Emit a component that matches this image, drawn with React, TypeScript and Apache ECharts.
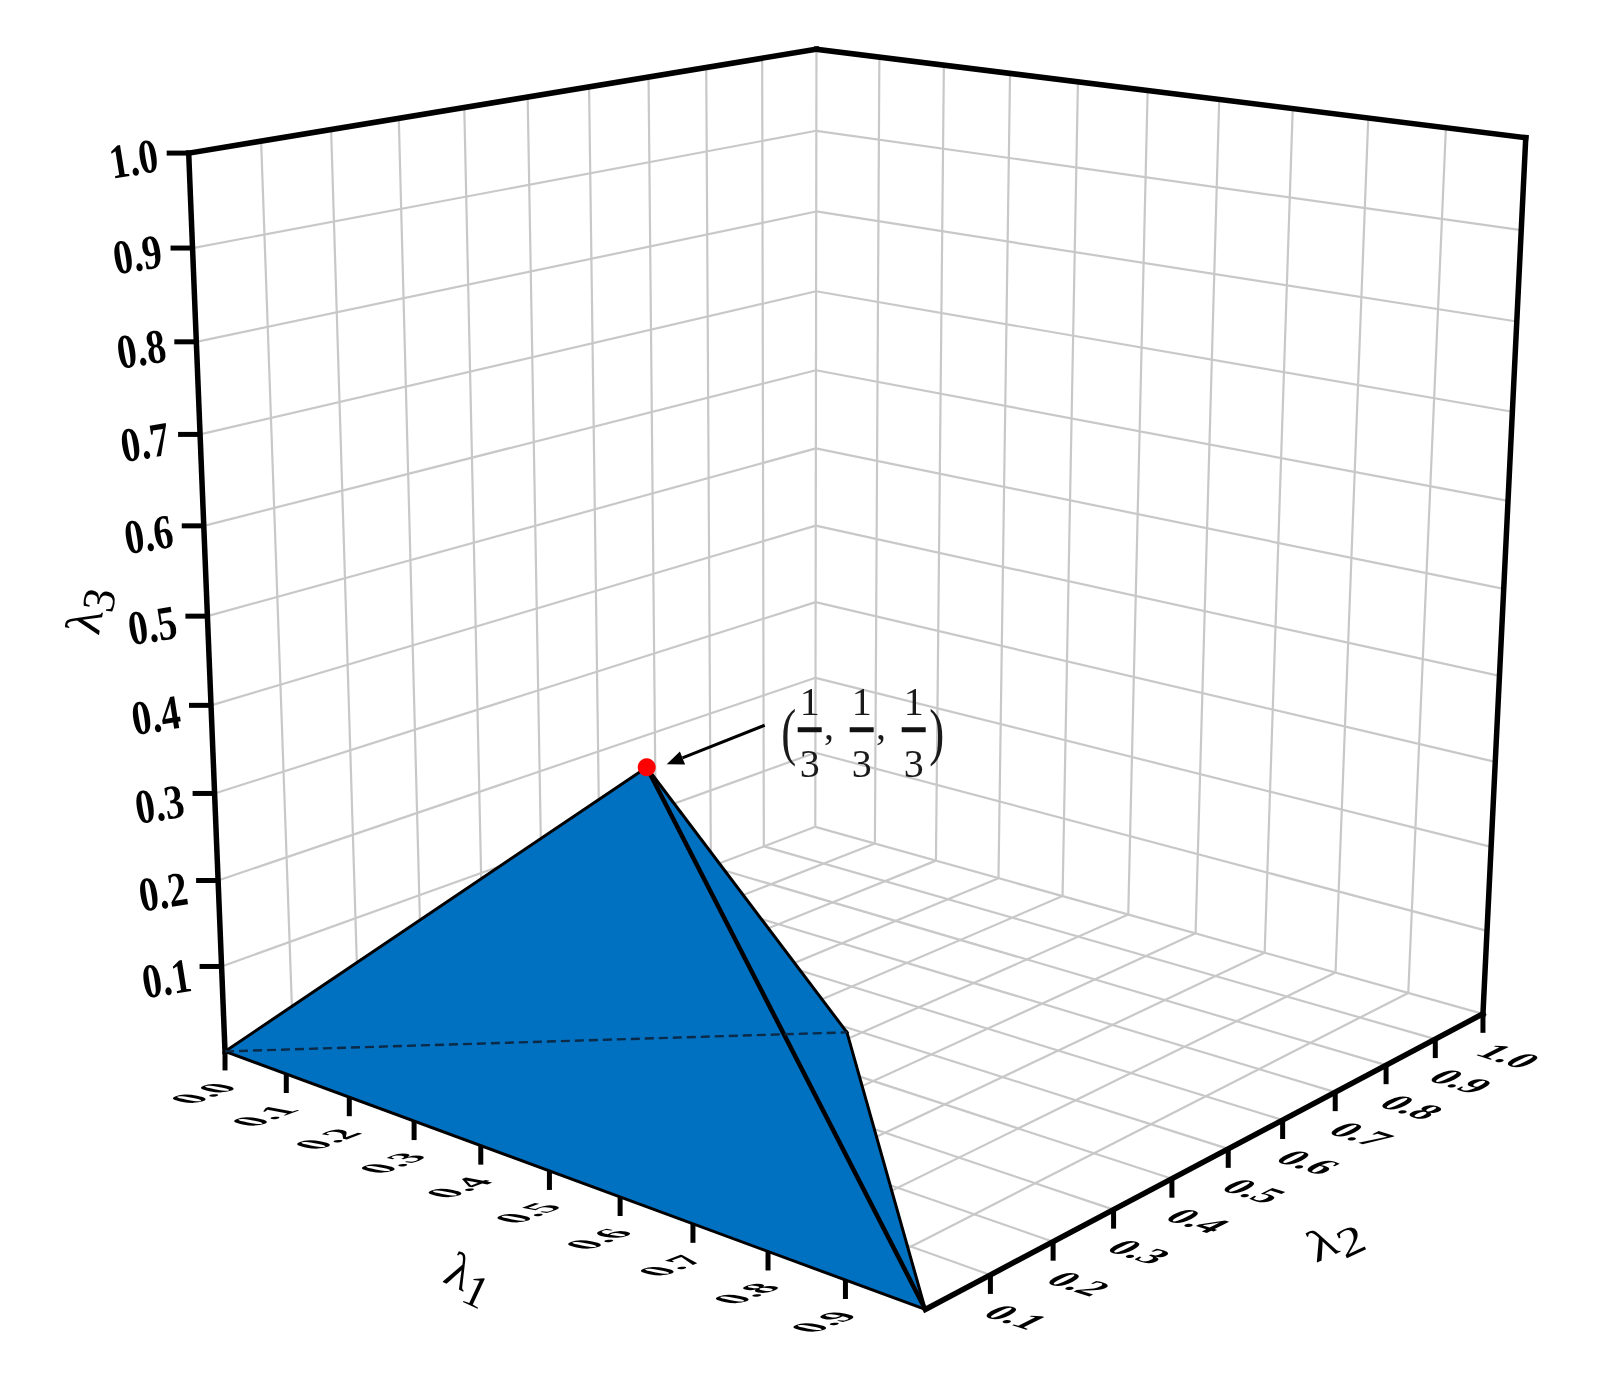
import React, { useEffect, useRef } from "react";
import * as echarts from "echarts";

const TICK_VALUES = [0.1, 0.2, 0.3, 0.4, 0.5, 0.6, 0.7, 0.8, 0.9];
const LAMBDA1_TICKS = [0, 0.1, 0.2, 0.3, 0.4, 0.5, 0.6, 0.7, 0.8, 0.9];
const LAMBDA1_LABELS = ["0.0", "0.1", "0.2", "0.3", "0.4", "0.5", "0.6", "0.7", "0.8", "0.9"];
const LAMBDA2_TICKS = [0.1, 0.2, 0.3, 0.4, 0.5, 0.6, 0.7, 0.8, 0.9, 1];
const LAMBDA2_LABELS = ["0.1", "0.2", "0.3", "0.4", "0.5", "0.6", "0.7", "0.8", "0.9", "1.0"];
const LAMBDA3_TICKS = [0.1, 0.2, 0.3, 0.4, 0.5, 0.6, 0.7, 0.8, 0.9, 1];
const LAMBDA3_LABELS = ["0.1", "0.2", "0.3", "0.4", "0.5", "0.6", "0.7", "0.8", "0.9", "1.0"];

// The simplex slice that is plotted, in (λ1, λ2, λ3)
const ORIGIN = [0, 0, 0];
const UNIT_L1 = [1, 0, 0];
const CENTROID = [0.336, 0.327, 0.32];
const MID_FLOOR = [0.487, 0.489, 0];

// Camera calibration: box corner -> page pixel
const CAMERA = [
  [[0, 0, 0], [225, 1051]],
  [[1, 0, 0], [925, 1310]],
  [[1, 1, 0], [1483, 1013]],
  [[0, 1, 0], [815.5, 827.5]],
  [[0, 0, 1], [189, 153]],
  [[0, 1, 1], [816, 49]],
  [[1, 1, 1], [1526, 138]],
];

function solveCamera(): number[] {
  const rows: number[][] = [];
  const rhs: number[] = [];
  for (const [[X, Y, Z], [u, v]] of CAMERA as any) {
    rows.push([X, Y, Z, 1, 0, 0, 0, 0, -u * X, -u * Y, -u * Z]);
    rhs.push(u);
    rows.push([0, 0, 0, 0, X, Y, Z, 1, -v * X, -v * Y, -v * Z]);
    rhs.push(v);
  }
  const n = 11;
  const A: number[][] = [];
  for (let i = 0; i < n; i++) {
    const r: number[] = [];
    for (let j = 0; j < n; j++) {
      let s = 0;
      rows.forEach((row) => (s += row[i] * row[j]));
      r.push(s);
    }
    let b = 0;
    rows.forEach((row, k) => (b += row[i] * rhs[k]));
    r.push(b);
    A.push(r);
  }
  for (let c = 0; c < n; c++) {
    let piv = c;
    for (let r = c + 1; r < n; r++) if (Math.abs(A[r][c]) > Math.abs(A[piv][c])) piv = r;
    [A[c], A[piv]] = [A[piv], A[c]];
    for (let r = 0; r < n; r++) {
      if (r === c) continue;
      const f = A[r][c] / A[c][c];
      for (let k = c; k <= n; k++) A[r][k] -= f * A[c][k];
    }
  }
  return A.map((r, i) => r[n] / r[i]);
}
const P = solveCamera();
function project(p: number[]): number[] {
  const [X, Y, Z] = p;
  const w = P[8] * X + P[9] * Y + P[10] * Z + 1;
  return [(P[0] * X + P[1] * Y + P[2] * Z + P[3]) / w, (P[4] * X + P[5] * Y + P[6] * Z + P[7]) / w];
}

const FONT = "'Liberation Serif', 'Times New Roman', serif";
const GRID_COLOR = "#c8c8c8";
const BLUE = "#0070c0";

// Affine text: ex maps text x to page, ey maps text y(down) to page
function affineText(x: number, y: number, ex: number[], ey: number[], style: any) {
  const a = ex[0], b = ey[0], c = ex[1], d = ey[1];
  const E = (a + d) / 2, F = (a - d) / 2, G = (c + b) / 2, H = (c - b) / 2;
  const Q = Math.hypot(E, H), R = Math.hypot(F, G);
  const a1 = Math.atan2(G, F), a2 = Math.atan2(H, E);
  const theta = (a2 - a1) / 2, phi = (a2 + a1) / 2;
  return {
    type: "group",
    x,
    y,
    rotation: -phi,
    children: [
      {
        type: "group",
        scaleX: Q + R,
        scaleY: Q - R,
        children: [
          {
            type: "group",
            rotation: -theta,
            children: [{ type: "text", style: { align: "center", verticalAlign: "middle", fill: "#000", ...style } }],
          },
        ],
      },
    ],
  };
}

function lineSeries(name: string, segments: number[][], color: string, width: number, extra: any = {}) {
  return {
    type: "custom",
    name,
    coordinateSystem: "cartesian2d",
    silent: true,
    clip: false,
    data: segments,
    renderItem: (_: any, api: any) => {
      const a = api.coord(project([api.value(0), api.value(1), api.value(2)]));
      const b = api.coord(project([api.value(3), api.value(4), api.value(5)]));
      return {
        type: "line",
        shape: { x1: a[0], y1: a[1], x2: b[0], y2: b[1] },
        style: { stroke: color, lineWidth: width, lineCap: "square", ...extra },
      };
    },
  };
}

function tickSeries(name: string, pts: number[][], dx: number, dy: number) {
  return {
    type: "custom",
    name,
    coordinateSystem: "cartesian2d",
    silent: true,
    clip: false,
    data: pts,
    renderItem: (_: any, api: any) => {
      const a = api.coord(project([api.value(0), api.value(1), api.value(2)]));
      return {
        type: "line",
        shape: { x1: a[0], y1: a[1], x2: a[0] + dx, y2: a[1] + dy },
        style: { stroke: "#000", lineWidth: 5 },
      };
    },
  };
}

function labelSeries(name: string, pts: number[][], labels: string[], make: (a: number[], text: string, v: number) => any) {
  return {
    type: "custom",
    name,
    coordinateSystem: "cartesian2d",
    silent: true,
    clip: false,
    data: pts,
    renderItem: (params: any, api: any) => {
      const a = api.coord(project([api.value(0), api.value(1), api.value(2)]));
      return make(a, labels[params.dataIndex], api.value(2));
    },
  };
}

function buildOption() {
  const grid: number[][] = [];
  for (const t of TICK_VALUES) {
    grid.push([t, 0, 0, t, 1, 0], [0, t, 0, 1, t, 0]); // floor
    grid.push([0, t, 0, 0, t, 1], [t, 1, 0, t, 1, 1]); // wall verticals
    grid.push([0, 0, t, 0, 1, t], [0, 1, t, 1, 1, t]); // wall horizontals
  }
  grid.push([0, 0, 0, 0, 1, 0], [0, 1, 0, 1, 1, 0], [0, 1, 0, 0, 1, 1]);

  const frame = [
    [0, 0, 0, 0, 0, 1],
    [0, 0, 1, 0, 1, 1],
    [0, 1, 1, 1, 1, 1],
    [1, 1, 1, 1, 1, 0],
    [1, 1, 0, 1, 0, 0],
  ];
  const faces = [
    [ORIGIN, CENTROID, UNIT_L1],
    [CENTROID, MID_FLOOR, UNIT_L1],
    [ORIGIN, MID_FLOOR, UNIT_L1],
  ];
  const outline = [
    [...ORIGIN, ...CENTROID],
    [...CENTROID, ...MID_FLOOR],
    [...MID_FLOOR, ...UNIT_L1],
    [...UNIT_L1, ...ORIGIN],
  ];

  const l1Style = { font: `bold 20px ${FONT}` };

  return {
    animation: false,
    backgroundColor: "#fff",
    grid: { left: 0, right: 0, top: 0, bottom: 0 },
    xAxis: { type: "value", min: 0, max: 1600, show: false },
    yAxis: { type: "value", min: 0, max: 1382, inverse: true, show: false },
    series: [
      lineSeries("grid", grid, GRID_COLOR, 2.2, { lineCap: "butt" }),
      tickSeries("tick1", LAMBDA1_TICKS.map((t) => [t, 0, 0]), 0, 19),
      tickSeries("tick2", LAMBDA2_TICKS.map((t) => [1, t, 0]), 0, 19),
      tickSeries("tick3", LAMBDA3_TICKS.map((t) => [0, 0, t]), -22, 0),
      lineSeries("frame", frame, "#000", 5.5),
      {
        type: "custom",
        name: "surface",
        coordinateSystem: "cartesian2d",
        silent: true,
        clip: false,
        data: faces.map((_, i) => [i]),
        renderItem: (params: any, api: any) => ({
          type: "polygon",
          shape: { points: faces[params.dataIndex].map((p) => api.coord(project(p))) },
          style: { fill: BLUE, stroke: BLUE, lineWidth: 0.5 },
        }),
      },
      lineSeries("outline", outline, "#000", 3),
      lineSeries("ridge", [[...CENTROID, ...UNIT_L1]], "#000", 4.5, { lineCap: "butt" }),
      lineSeries("hidden edge", [[...ORIGIN, ...MID_FLOOR]], "#0a2a48", 2.4, { lineDash: [9, 5], lineCap: "butt" }),
      {
        type: "custom",
        name: "centroid",
        coordinateSystem: "cartesian2d",
        silent: true,
        clip: false,
        data: [CENTROID],
        renderItem: (_: any, api: any) => {
          const a = api.coord(project([api.value(0), api.value(1), api.value(2)]));
          return { type: "circle", shape: { cx: a[0], cy: a[1], r: 9 }, style: { fill: "#ff0000" } };
        },
      },
      labelSeries("l1 labels", LAMBDA1_TICKS.map((t) => [t, 0, 0]), LAMBDA1_LABELS, (a, text) =>
        affineText(a[0] - 22, a[1] + 42, [1.87, -0.71], [2.0, 0.38], { text, ...l1Style })
      ),
      labelSeries("l2 labels", LAMBDA2_TICKS.map((t) => [1, t, 0]), LAMBDA2_LABELS, (a, text) =>
        affineText(a[0] + 26, a[1] + 42, [1.9, 0.6], [-1.7, 0.85], { text, ...l1Style })
      ),
      labelSeries("l3 labels", LAMBDA3_TICKS.map((t) => [0, 0, t]), LAMBDA3_LABELS, (a, text, v) =>
        affineText(a[0] - 55, a[1] + 13 - 7 * v, [0.8, -0.13], [0.16, 1.0], { text, font: `bold 48px ${FONT}` })
      ),
      {
        type: "custom",
        name: "annotation",
        coordinateSystem: "cartesian2d",
        silent: true,
        clip: false,
        data: [CENTROID],
        renderItem: (_: any, api: any) => {
          const t = api.coord(project([api.value(0), api.value(1), api.value(2)]));
          const tip = [t[0] + 20, t[1] - 3];
          const tail = [t[0] + 118, t[1] - 42];
          const len = Math.hypot(tail[0] - tip[0], tail[1] - tip[1]);
          const ux = (tail[0] - tip[0]) / len, uy = (tail[1] - tip[1]) / len;
          const base = [tip[0] + ux * 17, tip[1] + uy * 17];
          const children: any[] = [
            { type: "line", shape: { x1: tail[0], y1: tail[1], x2: base[0], y2: base[1] }, style: { stroke: "#000", lineWidth: 3 } },
            {
              type: "polygon",
              shape: { points: [tip, [base[0] - uy * 7, base[1] + ux * 7], [base[0] + uy * 7, base[1] - ux * 7]] },
              style: { fill: "#000" },
            },
          ];
          const txt = (x: number, y: number, text: string, size = 40) => ({
            type: "text",
            x,
            y,
            style: { text, font: `${size}px ${FONT}`, fill: "#1a1a1a", align: "center", verticalAlign: "middle" },
          });
          const fractionX = [163, 215, 267];
          fractionX.forEach((dx) => {
            const x = t[0] + dx;
            children.push(txt(x, t[1] - 66, "1"));
            children.push(txt(x, t[1] - 4, "3"));
            children.push({
              type: "rect",
              shape: { x: x - 12, y: t[1] - 40, width: 24, height: 5 },
              style: { fill: "#111" },
            });
          });
          children.push(txt(t[0] + 182, t[1] - 20, "’", 40), txt(t[0] + 234, t[1] - 20, "’", 40));
          children.push(
            affineText(t[0] + 142, t[1] - 36, [0.75, 0], [0, 1.05], { text: "(", font: `60px ${FONT}`, fill: "#1a1a1a" }),
            affineText(t[0] + 290, t[1] - 36, [0.75, 0], [0, 1.05], { text: ")", font: `60px ${FONT}`, fill: "#1a1a1a" })
          );
          return { type: "group", children };
        },
      },
      {
        type: "custom",
        name: "axis names",
        coordinateSystem: "cartesian2d",
        silent: true,
        clip: false,
        data: [[0]],
        renderItem: (_: any, api: any) => {
          const at = (x: number, y: number) => api.coord([x, y]);
          const rich = { a: { font: `50px ${FONT}`, fill: "#000" }, s: { font: `46px ${FONT}`, fill: "#000", padding: [22, 0, 0, 0] } };
          const name = (x: number, y: number, deg: number, label: string, sx = 1, sy = 1) => {
            const p = at(x, y);
            const r = (deg * Math.PI) / 180;
            return affineText(p[0], p[1], [Math.cos(r) * sx, Math.sin(r) * sx], [-Math.sin(r) * sy, Math.cos(r) * sy], {
              text: `{a|λ}{s|${label}}`,
              rich,
            });
          };
          return {
            type: "group",
            children: [name(470, 1276, 25, "1"), name(1334, 1238, -25, "2", 1.15, 0.9), name(86, 610, -80, "3")],
          };
        },
      },
    ],
  };
}

export default function App() {
  const ref = useRef<HTMLDivElement>(null);
  useEffect(() => {
    document.body.style.margin = "0";
    const chart = echarts.init(ref.current!, undefined, { renderer: "svg" });
    chart.setOption(buildOption() as any);
    return () => chart.dispose();
  }, []);
  return <div ref={ref} style={{ width: 1600, height: 1382, filter: "blur(0.6px)" }} />;
}
